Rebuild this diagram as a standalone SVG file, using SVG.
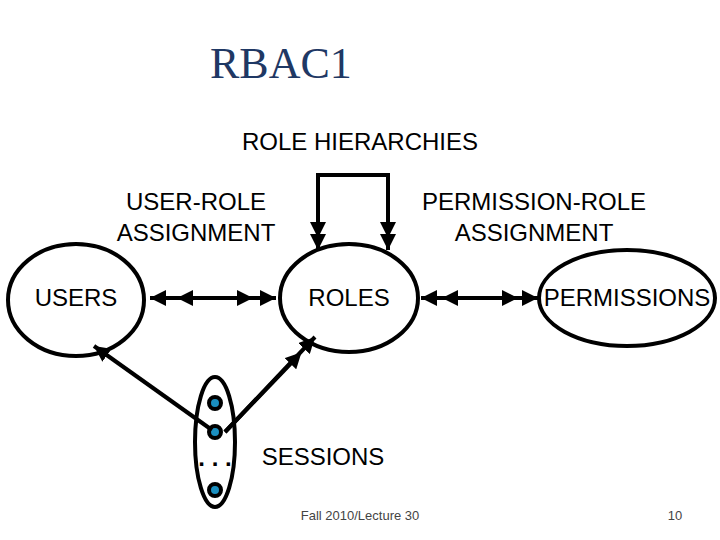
<svg xmlns="http://www.w3.org/2000/svg" width="720" height="540" viewBox="0 0 720 540">
<style>
.n{fill:none;stroke:#000;stroke-width:4}
.t{font-family:"Liberation Sans",Arial,sans-serif;font-size:24px;fill:#000;text-anchor:middle}
.c{fill:none;stroke:#000;stroke-width:4}
.d{fill:#1a8fc0;stroke:#000;stroke-width:4}
.f{font-family:"Liberation Sans",Arial,sans-serif;font-size:13px;fill:#444;text-anchor:middle}
</style>
<defs>
<marker id="a" viewBox="0 0 10 10" refX="10" refY="5" markerWidth="4" markerHeight="4" orient="auto"><path d="M0,0L10,5L0,10z" fill="#000"/></marker>
<marker id="m" viewBox="0 0 10 10" refX="5" refY="5" markerWidth="4" markerHeight="4" orient="auto"><path d="M0,0L10,5L0,10z" fill="#000"/></marker>
</defs>
<rect width="720" height="540" fill="#fff"/>
<text x="210" y="78" font-family="Liberation Serif,serif" font-size="44" fill="#1f3864">RBAC1</text>
<text class="t" x="360" y="150">ROLE HIERARCHIES</text>
<text class="t" x="196" y="210">USER-ROLE</text>
<text class="t" x="196" y="241">ASSIGNMENT</text>
<text class="t" x="534" y="210">PERMISSION-ROLE</text>
<text class="t" x="534" y="241">ASSIGNMENT</text>
<g id="users"><ellipse class="n" cx="76" cy="300" rx="68" ry="56"/><text class="t" x="76" y="306">USERS</text></g>
<g id="roles"><ellipse class="n" cx="349" cy="298" rx="69" ry="54"/><text class="t" x="349" y="306">ROLES</text></g>
<g id="permissions"><ellipse class="n" cx="627" cy="298" rx="88" ry="48"/><text class="t" x="627" y="306">PERMISSIONS</text></g>
<g id="sessions"><ellipse class="n" cx="215" cy="442" rx="20" ry="65"/>
<circle class="d" cx="215" cy="403" r="6"/><circle class="d" cx="215" cy="432" r="6"/><circle class="d" cx="215" cy="490" r="6"/>
<text x="215" y="466" font-family="Liberation Sans,sans-serif" font-size="24" font-weight="bold" text-anchor="middle">. . .</text>
<text class="t" x="323" y="465">SESSIONS</text></g>
<g id="connectors">
<path class="c" d="M318,250V175H388V250" marker-end="url(#a)"/>
<path class="c" d="M318,175V250" marker-end="url(#a)"/>
<path class="c" d="M318,175V230" marker-end="url(#m)"/>
<path class="c" d="M388,175V230" marker-end="url(#m)"/>
<path class="c" d="M213,298H150" marker-end="url(#a)"/>
<path class="c" d="M213,298H276" marker-end="url(#a)"/>
<path class="c" d="M213,298H185" marker-end="url(#m)"/>
<path class="c" d="M213,298H245" marker-end="url(#m)"/>
<path class="c" d="M480,298H421" marker-end="url(#a)"/>
<path class="c" d="M480,298H538" marker-end="url(#a)"/>
<path class="c" d="M480,298H450" marker-end="url(#m)"/>
<path class="c" d="M480,298H510" marker-end="url(#m)"/>
<path class="c" d="M212,430L94,346" marker-end="url(#a)"/>
<path class="c" d="M225,432L315,337" marker-end="url(#a)"/>
<path class="c" d="M225,432L296,358" marker-end="url(#m)"/>
</g>
<text class="f" x="360" y="520">Fall 2010/Lecture 30</text>
<text class="f" x="675" y="520">10</text>
</svg>
